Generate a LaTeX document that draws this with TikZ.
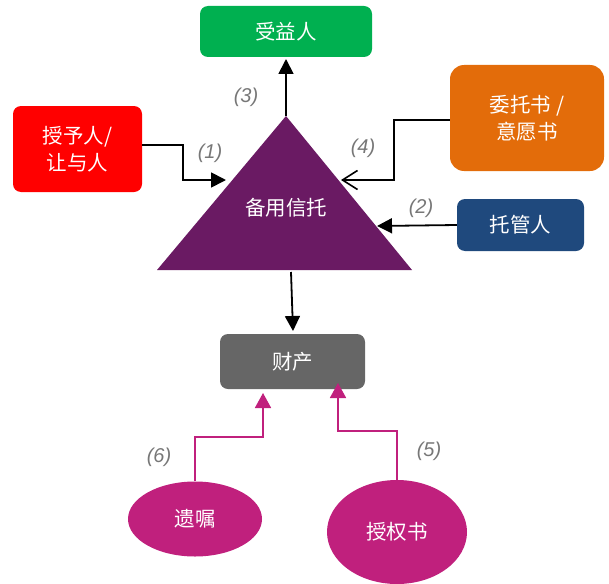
\documentclass[tikz,border=0pt]{standalone}
\usepackage{fontspec}
\newfontfamily\cjk{Noto Sans CJK SC}
\newfontfamily\lab{Liberation Sans}
\usetikzlibrary{arrows.meta,shapes.geometric}
\definecolor{cgreen}{HTML}{00B050}
\definecolor{cred}{HTML}{FF0000}
\definecolor{corange}{HTML}{E36C0A}
\definecolor{cnavy}{HTML}{1F497D}
\definecolor{cpurple}{HTML}{6A1A63}
\definecolor{cgray}{HTML}{666666}
\definecolor{cmag}{HTML}{C0207D}
\definecolor{clab}{HTML}{777777}
\tikzset{
  box/.style={draw=none, rounded corners=8pt, inner sep=0pt, text=white,
    font=\cjk\fontsize{20.5}{27}\selectfont, align=center},
  oval/.style={ellipse, draw=none, fill=cmag, inner sep=0pt, text=white,
    font=\cjk\fontsize{20.5}{27}\selectfont},
  blk/.style={draw=black, line width=1.8pt, -{Triangle[length=15pt,width=15pt]}},
  mg/.style={draw=cmag, line width=1.8pt, -{Triangle[length=15pt,width=16pt]}},
  num/.style={text=clab, font=\lab\itshape\fontsize{20}{24}\selectfont},
}
\begin{document}
\begin{tikzpicture}[x=1pt,y=-1pt]
\useasboundingbox (0,0) rectangle (609,583);
% triangle
\coordinate (apex) at (286,116);
\coordinate (bl) at (157,270);
\coordinate (br) at (412,270);
\fill[cpurple] (apex) -- (br) -- (bl) -- cycle;
\node[text=white, font=\cjk\fontsize{20.5}{27}\selectfont] (trust) at (286,208) {备用信托};
% boxes
\node[box, fill=cgreen, minimum width=172pt, minimum height=51pt] (ben) at (286,31.5) {受益人};
\node[box, fill=cred, minimum width=129pt, minimum height=86pt] (grant) at (77.5,149) {授予人/\\让与人};
\node[box, fill=corange, minimum width=154pt, minimum height=106pt, rounded corners=14pt] (will) at (527,118) {委托书 /\\意愿书};
\node[box, fill=cnavy, minimum width=127pt, minimum height=52pt] (cust) at (520.5,225) {托管人};
\node[box, fill=cgray, minimum width=145pt, minimum height=55pt] (prop) at (292.5,361.5) {财产};
\node[oval, minimum width=134pt, minimum height=75pt] (testament) at (195,519) {遗嘱};
\node[oval, minimum width=140pt, minimum height=104pt] (poa) at (397,532) {授权书};
% connectors
\coordinate (t1) at (226,180);
\coordinate (t4) at (341,180);
\coordinate (t2) at (377,226);
\coordinate (tb) at (291,272);
\coordinate (pt) at (293,331);
\coordinate (p6) at (263,393);
\coordinate (p5) at (338,383);
\draw[blk] (apex) -- (ben.south |- 0,59);
\draw[blk] (grant.east |- 0,145) -| (183,180) -- (t1);
\draw[draw=black, line width=1.8pt, -{Straight Barb[length=15pt,width=19pt,line width=1.6pt]}] (will.west |- 0,120) -| (394,180) -- (t4);
\draw[blk] (cust.west) -- (t2);
\draw[blk] (tb) -- (pt);
\draw[mg] (testament.north) |- (263,437) -- (p6);
\draw[mg] (poa.north) |- (338,431) -- (p5);
% labels
\node[num] (n1) at (210,153) {(1)};
\node[num] (n2) at (421,208) {(2)};
\node[num] (n3) at (246,97) {(3)};
\node[num] (n4) at (363,148) {(4)};
\node[num] (n5) at (429,451) {(5)};
\node[num] (n6) at (159,457) {(6)};
\end{tikzpicture}
\end{document}
